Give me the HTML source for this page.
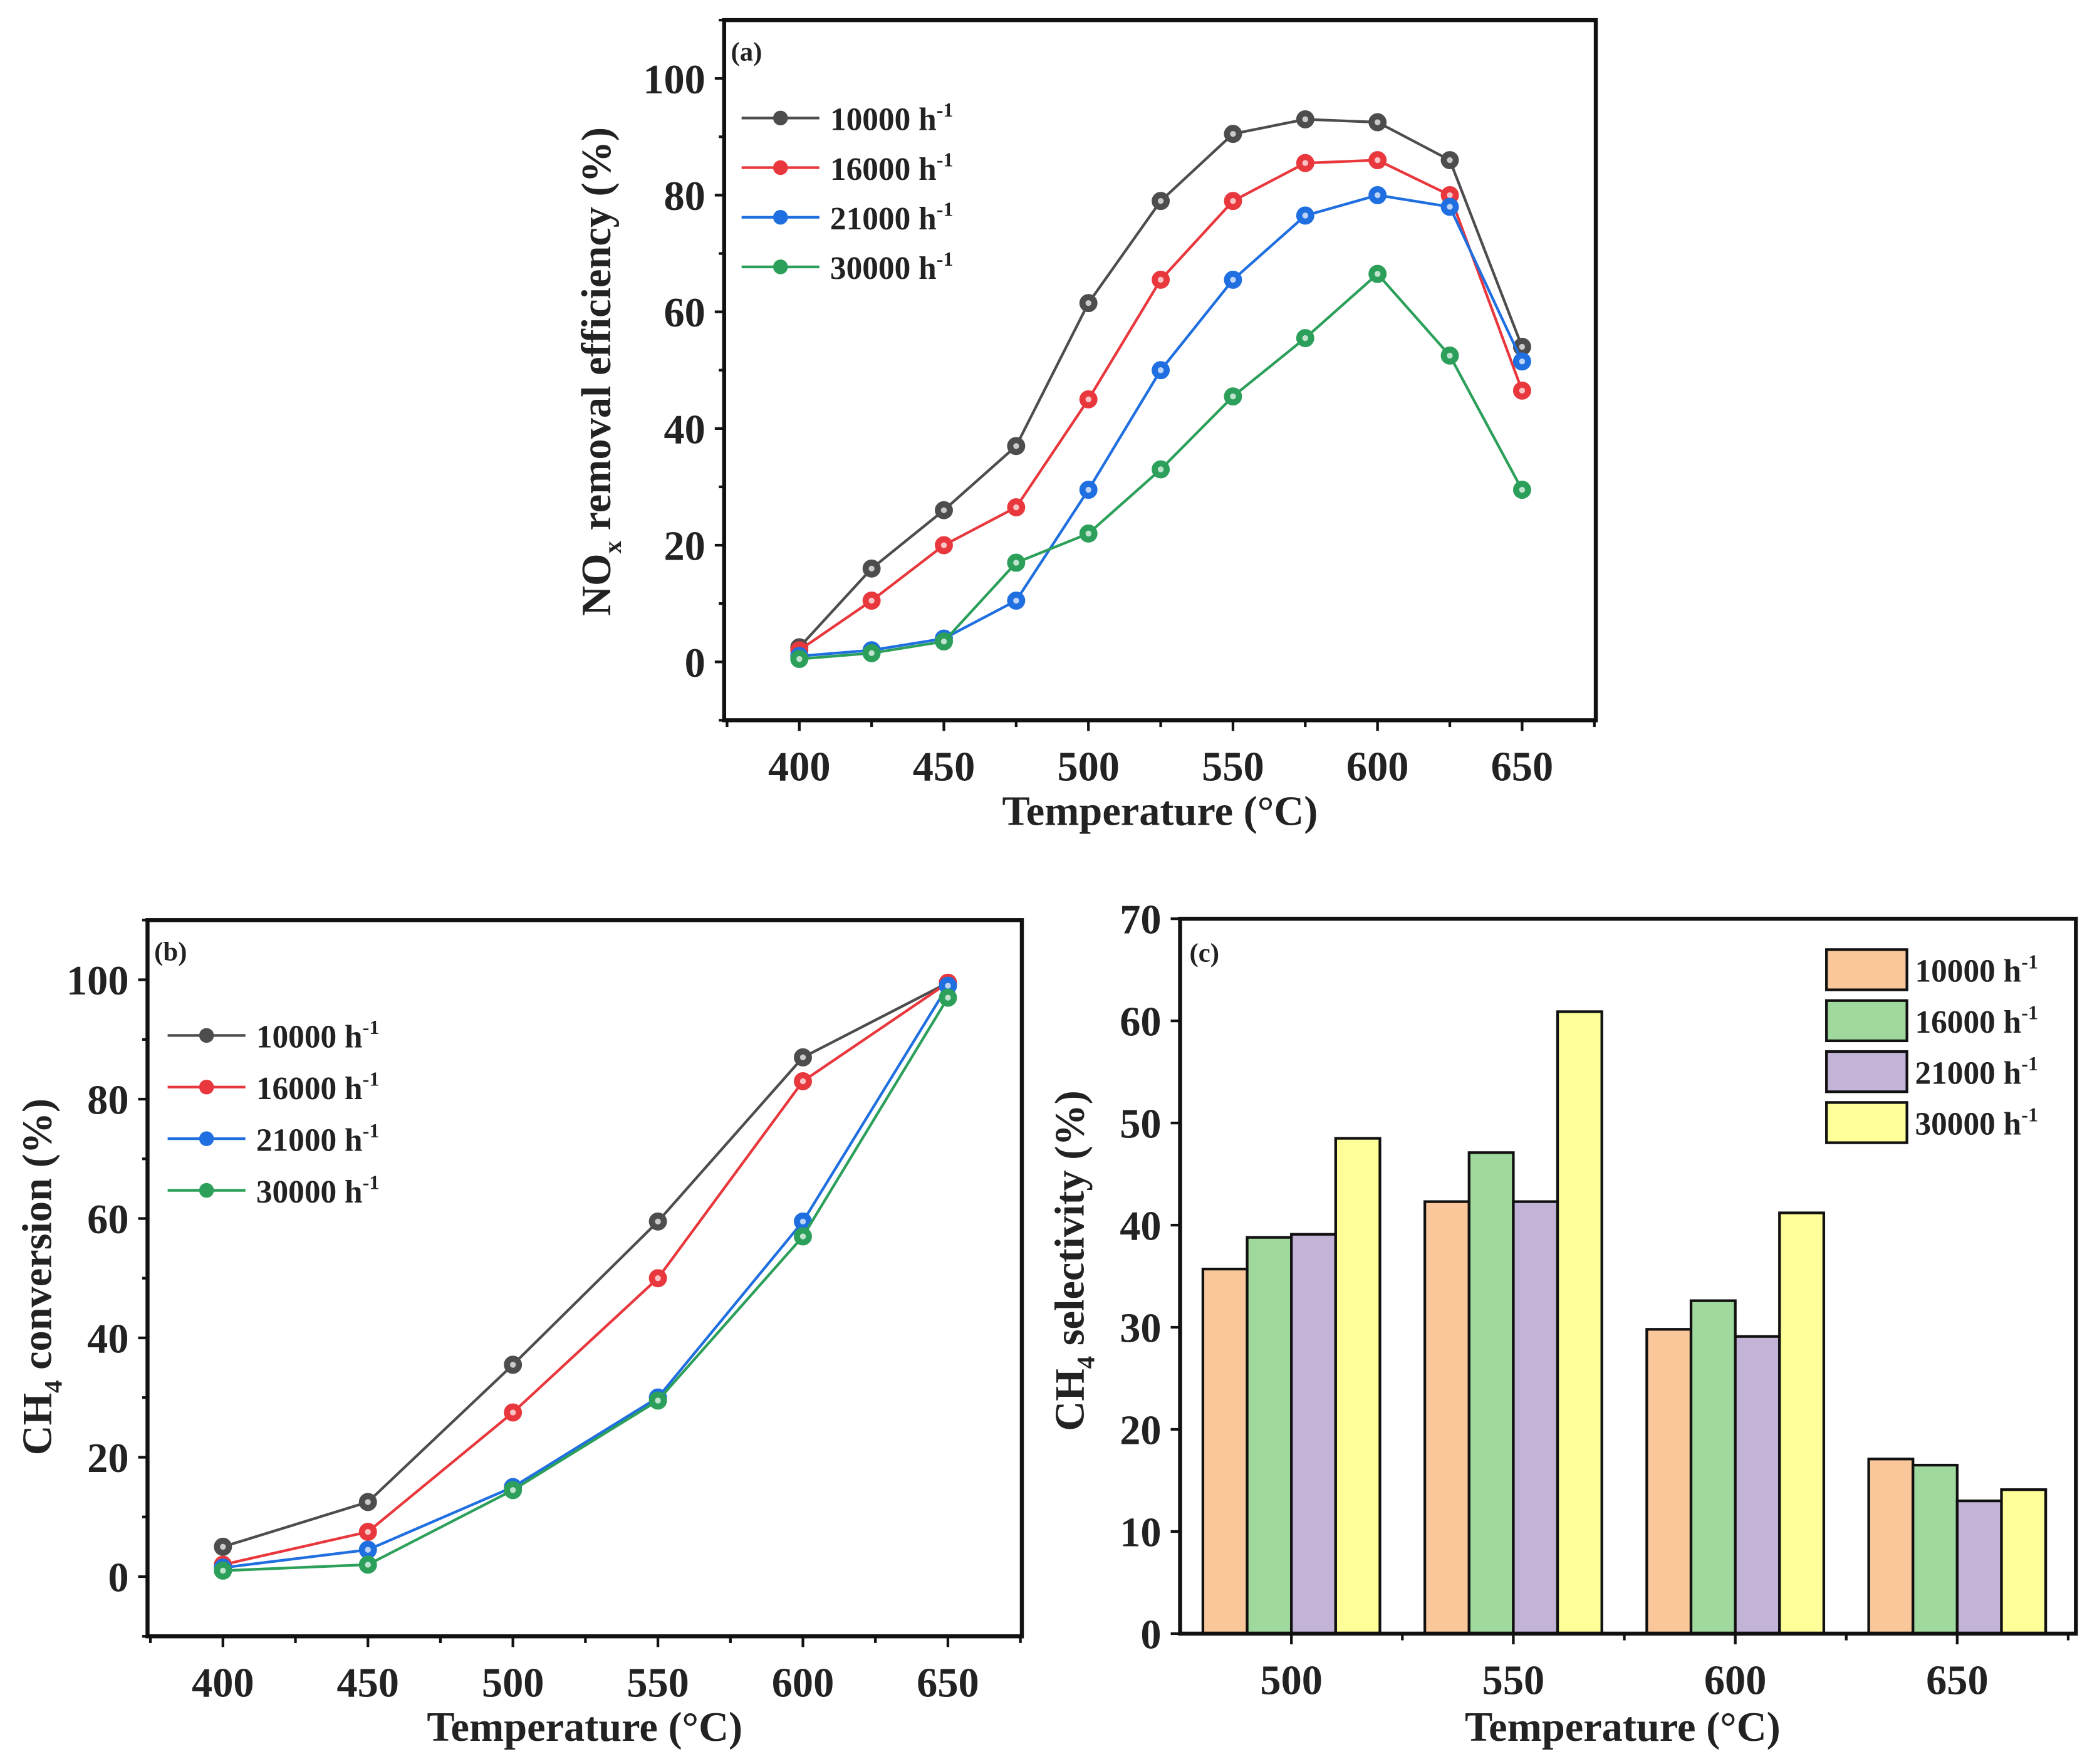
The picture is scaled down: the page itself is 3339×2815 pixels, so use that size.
<!DOCTYPE html>
<html><head><meta charset="utf-8"><style>
html,body{margin:0;padding:0;background:#fff;}
svg{display:block;}
text{font-family:"Liberation Serif",serif;font-weight:bold;fill:#222;}
</style></head><body>
<svg id="fig" width="3339" height="2815" viewBox="0 0 1560 1315.2" xmlns="http://www.w3.org/2000/svg"></svg>
<script>
// ---- Panel (a) data ----
const aTemps = [400,425,450,475,500,525,550,575,600,625,650];
const a10000 = [2.5,16,26,37,61.5,79,90.5,93,92.5,86,54];
const a16000 = [2,10.5,20,26.5,45,65.5,79,85.5,86,80,46.5];
const a21000 = [1,2,4,10.5,29.5,50,65.5,76.5,80,78,51.5];
const a30000 = [0.5,1.5,3.5,17,22,33,45.5,55.5,66.5,52.5,29.5];
// ---- Panel (b) data ----
const bTemps = [400,450,500,550,600,650];
const b10000 = [5,12.5,35.5,59.5,87,99.5];
const b16000 = [2,7.5,27.5,50,83,99.5];
const b21000 = [1.5,4.5,15,30,59.5,99];
const b30000 = [1,2,14.5,29.5,57,97];
// ---- Panel (c) data ----
const cCats = ["500","550","600","650"];
const c10000 = [35.7,42.3,29.8,17.1];
const c16000 = [38.8,47.1,32.6,16.5];
const c21000 = [39.1,42.3,29.1,13.0];
const c30000 = [48.5,60.9,41.2,14.1];
const seriesNames = ["10000","16000","21000","30000"];
const xTicksLine = [400,450,500,550,600,650];
const yTicksLine = [0,20,40,60,80,100];
const yTicksBar = [0,10,20,30,40,50,60,70];

const NS="http://www.w3.org/2000/svg";
const svg=document.getElementById('fig');
function mk(tag,attrs,parent){const e=document.createElementNS(NS,tag);for(const k in attrs)e.setAttribute(k,attrs[k]);(parent||svg).appendChild(e);return e;}
function txt(str,x,y,size,anchor,parent){const t=mk('text',{x:x,y:y,'font-size':size,'text-anchor':anchor||'middle'},parent);t.textContent=str;return t;}

const lineColors=["#4d4d4d","#e8383d","#1f6fe0","#2ca05a"];

function linePanel(id,box,xr,yr,temps,series,tickMinor,label,ylabel,yl,leg){
  const g=mk('g',{});
  
  
  const X=v=>box.l+(v-xr[0])/(xr[1]-xr[0])*(box.r-box.l);
  const Y=v=>box.b-(v-yr[0])/(yr[1]-yr[0])*(box.b-box.t);
  const fr=mk('rect',{x:box.l,y:box.t,width:box.r-box.l,height:box.b-box.t,fill:'none',stroke:'#111','stroke-width':3},g);
  
  
  for(let v=375;v<=675;v+=tickMinor){const x=X(v);mk('line',{x1:x,y1:box.b,x2:x,y2:box.b+(v%50===0?8:5),stroke:'#111','stroke-width':2},g);}
  xTicksLine.forEach(v=>{const t=txt(String(v),X(v),box.b+45,31,'middle',g);});
  for(let v=-10;v<=110;v+=10){const y=Y(v);mk('line',{x1:box.l-(v%20===0?7:4),y1:y,x2:box.l,y2:y,stroke:'#111','stroke-width':2},g);}
  yTicksLine.forEach(v=>{const t=txt(String(v),box.l-14,Y(v)+11,31,'end',g);});
  series.forEach((s,i)=>{
    const pts=temps.map((t,j)=>X(t)+','+Y(s[j])).join(' ');
    const pl=mk('polyline',{points:pts,fill:'none',stroke:lineColors[i],'stroke-width':2},g);
    
    
    temps.forEach((t,j)=>{
      const c=mk('circle',{cx:X(t),cy:Y(s[j]),r:6,fill:lineColors[i],stroke:lineColors[i],'stroke-width':1.5},g);
      
      
      mk('circle',{cx:X(t),cy:Y(s[j]),r:2.2,fill:'#fff',opacity:0.7},g);
    });
  });
  seriesNames.forEach((n,i)=>{
    const y=leg.y0+i*leg.dy;
    const lg=mk('g',{},g);
    
    
    mk('line',{x1:leg.x,y1:y,x2:leg.x+58,y2:y,stroke:lineColors[i],'stroke-width':2},lg);
    mk('circle',{cx:leg.x+29,cy:y,r:5.5,fill:lineColors[i]},lg);
    const t=mk('text',{x:leg.x+66,y:y+9,'font-size':24,'text-anchor':'start'},lg);
    t.textContent=n+' h';
    const sup=mk('tspan',{'font-size':15,dy:-10},t);sup.textContent='-1';
  });
  const pl=txt('('+id+')',box.l+5,box.t+30,20,'start',g);
  
  const xl=mk('text',{x:(box.l+box.r)/2,y:box.b+78,'font-size':31,'text-anchor':'middle'},g);
  xl.textContent='Temperature (°C)';
  
  const ylT=mk('text',{x:yl.x,y:yl.y,'font-size':31,'text-anchor':'middle',transform:'rotate(-90 '+yl.x+' '+yl.y+')'},g);
  
  ylabel(ylT);
}

linePanel('a',{l:540,r:1190,t:15,b:537},[374,675.5],[-10,110],aTemps,[a10000,a16000,a21000,a30000],25,'',
  t=>{t.appendChild(document.createTextNode('NO'));const s=mk('tspan',{'font-size':19,dy:8},t);s.textContent='x';const r=mk('tspan',{dy:-8},t);r.textContent=' removal efficiency (%)';},
  {x:455,y:277},{x:553,y0:88,dy:37});
linePanel('b',{l:110,r:762,t:686,b:1220},[374,675.5],[-10,110],bTemps,[b10000,b16000,b21000,b30000],25,'',
  t=>{t.appendChild(document.createTextNode('CH'));const s=mk('tspan',{'font-size':19,dy:8},t);s.textContent='4';const r=mk('tspan',{dy:-8},t);r.textContent=' conversion (%)';},
  {x:38,y:952},{x:125,y0:772,dy:38.5});

(function(){
  const box={l:880,r:1548,t:685,b:1218};
  const g=mk('g',{});
  
  
  const Y=v=>box.b-v/70*(box.b-box.t);
  const spacing=165.5, x0=963;
  const X=i=>x0+i*spacing;
  const barColors=["#f9c79a","#a0d99d","#c2b3d7","#ffff99"];
  const all=[c10000,c16000,c21000,c30000];
  const bw=33;
  cCats.forEach((c,i)=>{
    all.forEach((s,k)=>{
      const x=X(i)-2*bw+k*bw;
      const r=mk('rect',{x:x,y:Y(s[i]),width:bw,height:box.b-Y(s[i]),fill:barColors[k],stroke:'#111','stroke-width':2},g);
      
      
    });
    mk('line',{x1:X(i),y1:box.b,x2:X(i),y2:box.b+8,stroke:'#111','stroke-width':2},g);
    mk('line',{x1:X(i)+spacing/2,y1:box.b,x2:X(i)+spacing/2,y2:box.b+5,stroke:'#111','stroke-width':2},g);
    const t=txt(c,X(i),box.b+45,31,'middle',g);
    
  });
  const fr=mk('rect',{x:box.l,y:box.t,width:box.r-box.l,height:box.b-box.t,fill:'none',stroke:'#111','stroke-width':3},g);
  
  yTicksBar.forEach(v=>{
    mk('line',{x1:box.l-7,y1:Y(v),x2:box.l,y2:Y(v),stroke:'#111','stroke-width':2},g);
    const t=txt(String(v),box.l-14,Y(v)+11,31,'end',g);
    
  });
  seriesNames.forEach((n,k)=>{
    const y=708+k*38;
    const lg=mk('g',{},g);
    
    
    mk('rect',{x:1362,y:y,width:60,height:30,fill:barColors[k],stroke:'#111','stroke-width':2},lg);
    const t=mk('text',{x:1428,y:y+24,'font-size':24,'text-anchor':'start'},lg);
    t.textContent=n+' h';
    const sup=mk('tspan',{'font-size':15,dy:-10},t);sup.textContent='-1';
  });
  const pl=txt('(c)',box.l+7,box.t+32,20,'start',g);
  
  const xl=mk('text',{x:1210,y:box.b+80,'font-size':31,'text-anchor':'middle'},g);
  xl.textContent='Temperature (°C)';
  
  const yx=808,yy=940;
  const t=mk('text',{x:yx,y:yy,'font-size':31,'text-anchor':'middle',transform:'rotate(-90 '+yx+' '+yy+')'},g);
  
  t.appendChild(document.createTextNode('CH'));const s=mk('tspan',{'font-size':19,dy:8},t);s.textContent='4';const r=mk('tspan',{dy:-8},t);r.textContent=' selectivity (%)';
})();
</script>
</body></html>
